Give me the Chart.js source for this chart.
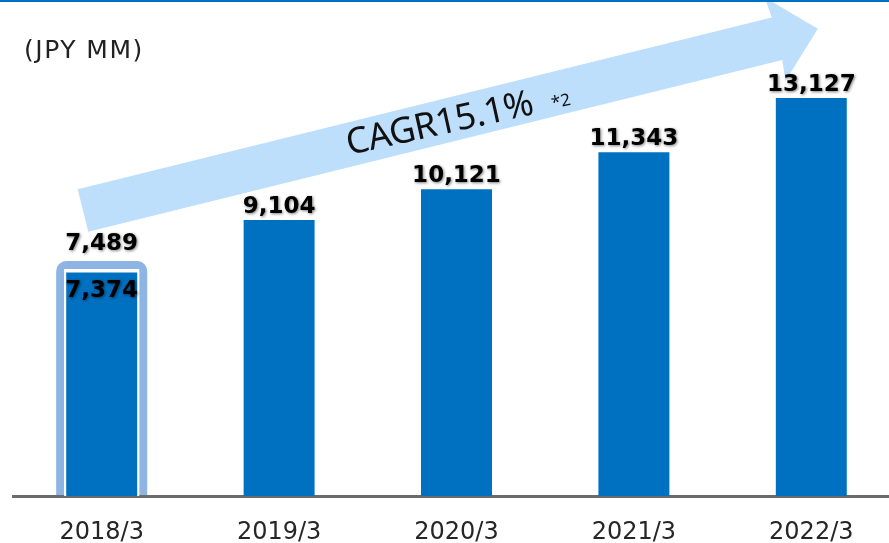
<!DOCTYPE html>
<html>
<head>
<meta charset="utf-8">
<script src="https://cdn.jsdelivr.net/npm/chart.js@4.4.1/dist/chart.umd.min.js"></script>
<style>
  html, body { margin: 0; padding: 0; background: #fff; overflow: hidden; }
  #wrap { position: relative; width: 900px; height: 543px; }
  #topline { position: absolute; left: 0; top: 0; width: 889px; height: 2px; background: #0070C0; }
</style>
</head>
<body>
<div id="wrap">
  <canvas id="salesChart" width="900" height="543"></canvas>
  <div id="topline"></div>
</div>
<script>
const years = ['2018/3', '2019/3', '2020/3', '2021/3', '2022/3'];
const sales = [7374, 9104, 10121, 11343, 13127];
const salesOldBasis = [7489, null, null, null, null];
const unitText = '(JPY MM)';
const cagrText = 'CAGR15.1%';
const cagrNote = '*2';

const fmt = v => v.toLocaleString('en-US');

// big light blue arrow behind the bars, plus the unit text
const arrowPlugin = {
    id: 'arrowPlugin',
    beforeDatasetsDraw(chart) {
        const ctx = chart.ctx;
        const ang = 13.9 * Math.PI / 180;
        const ux = Math.cos(ang), uy = -Math.sin(ang);
        const nx = Math.sin(ang), ny = Math.cos(ang);
        const cx = 580, cy = 87.5;
        const pt = (t, n) => [cx + t * ux + n * nx, cy + t * uy + n * ny];
        const pts = [pt(-512, -22), pt(203, -22), pt(201, -43), pt(245, 0),
                     pt(201, 43), pt(203, 22), pt(-512, 22)];
        ctx.save();
        ctx.fillStyle = '#BDDFFB';
        ctx.beginPath();
        pts.forEach((p, i) => i ? ctx.lineTo(p[0], p[1]) : ctx.moveTo(p[0], p[1]));
        ctx.closePath();
        ctx.fill();

        ctx.fillStyle = '#111';
        ctx.font = '36px "Noto Sans"';
        ctx.letterSpacing = '-0.5px';
        ctx.textAlign = 'left';
        ctx.textBaseline = 'alphabetic';
        ctx.translate(349, 155);
        ctx.rotate(-12.5 * Math.PI / 180);
        ctx.fillText(cagrText, 0, 0);
        ctx.letterSpacing = '0px';
        ctx.font = '17px "Noto Sans"';
        ctx.fillText(cagrNote, 209, -1);
        ctx.restore();

        ctx.save();
        ctx.fillStyle = '#222';
        ctx.font = '25px "DejaVu Sans"';
        ctx.letterSpacing = '1.5px';
        ctx.textBaseline = 'alphabetic';
        ctx.fillText(unitText, 24, 58);
        ctx.restore();

        // highlight ring around the first bar (old basis value)
        const ring = chart.getDatasetMeta(1).data[0];
        if (ring) {
            const area = chart.chartArea;
            const l = ring.x - ring.width / 2 - 4, r = ring.x + ring.width / 2 + 4;
            const top = ring.y - 4;
            ctx.save();
            ctx.beginPath();
            ctx.rect(0, 0, chart.width, area.bottom - 1);
            ctx.clip();
            ctx.strokeStyle = '#8EB4E3';
            ctx.lineWidth = 8;
            ctx.beginPath();
            ctx.roundRect(l, top, r - l, area.bottom + 20 - top, 6);
            ctx.stroke();
            ctx.restore();
        }
    }
};

const labelPlugin = {
    id: 'labelPlugin',
    afterDatasetsDraw(chart) {
        const ctx = chart.ctx;
        ctx.save();
        ctx.font = 'bold 23px "DejaVu Sans"';
        ctx.fillStyle = '#000';
        ctx.textAlign = 'center';
        ctx.textBaseline = 'alphabetic';
        ctx.shadowColor = 'rgba(0,0,0,0.5)';
        ctx.shadowBlur = 3;
        ctx.shadowOffsetX = 1;
        ctx.shadowOffsetY = 1;
        chart.getDatasetMeta(0).data.forEach((bar, i) => {
            const y = salesOldBasis[i] != null ? bar.y + 25 : bar.y - 7;
            ctx.fillText(fmt(sales[i]), bar.x, y);
        });
        chart.getDatasetMeta(1).data.forEach((bar, i) => {
            if (salesOldBasis[i] == null) return;
            ctx.fillText(fmt(salesOldBasis[i]), bar.x, bar.y - 19);
        });
        ctx.restore();
    }
};

new Chart(document.getElementById('salesChart'), {
    type: 'bar',
    data: {
        labels: years,
        datasets: [{
            label: 'Sales',
            data: sales,
            backgroundColor: '#0070C0',
            barPercentage: 0.40,
            categoryPercentage: 1,
            grouped: false,
            order: 1
        }, {
            label: 'Sales (old basis)',
            data: salesOldBasis,
            backgroundColor: 'rgba(255,255,255,1)',
            barPercentage: 0.423,
            categoryPercentage: 1,
            grouped: false,
            order: 2
        }]
    },
    options: {
        responsive: false,
        animation: false,
        layout: { padding: { left: 13, top: 11, right: 0, bottom: 0 } },
        plugins: { legend: { display: false }, tooltip: { enabled: false } },
        scales: {
            x: {
                grid: { display: false, drawTicks: false },
                border: { display: true, color: '#6b6b6b', width: 3 },
                ticks: { color: '#262626', padding: 22, font: { family: 'DejaVu Sans', size: 24 } },
                afterFit(scale) { scale.height = 47; }
            },
            y: {
                display: false,
                min: 0,
                max: 16000
            }
        }
    },
    plugins: [arrowPlugin, labelPlugin]
});
</script>
</body>
</html>
